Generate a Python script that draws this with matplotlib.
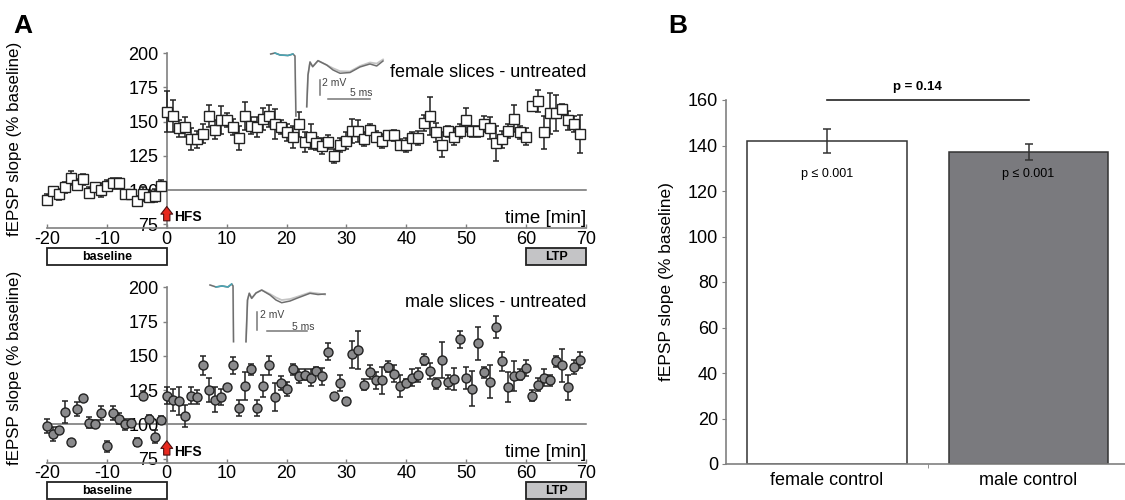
import matplotlib
matplotlib.use('Agg')
import matplotlib.pyplot as plt
import matplotlib.transforms as mtransforms
from matplotlib.patches import Rectangle

plt.rcParams['font.family'] = ['Liberation Sans', 'DejaVu Sans']
plt.rcParams['axes.unicode_minus'] = False

# ---- data: panel A (fEPSP slope, % baseline, one point per minute) ----
minutes = list(range(-20, 70))

female_mean = [93, 99, 97, 102, 109, 104, 108, 98, 102, 100, 103, 105, 105, 97, 97, 92, 97, 95, 96, 103,
               157, 154, 145, 146, 137, 137, 141, 154, 144, 151, 151, 146, 138, 154, 147, 146, 152, 154, 148, 146, 142, 139,
               148, 135, 139, 134, 132, 135, 125, 133, 136, 143, 143, 137, 144, 139, 136, 140, 140, 133, 133, 138, 138,
               149, 154, 142, 133, 143, 139, 143, 151, 143, 143, 148, 145, 134, 137, 143, 152, 142, 139, 161, 165, 142,
               156, 156, 159, 151, 148, 141]
female_sem = [4, 3, 4, 4, 5, 4, 4, 4, 3, 5, 4, 4, 4, 3, 3, 4, 5, 4, 5, 4,
              15, 12, 6, 7, 8, 6, 7, 8, 7, 10, 5, 6, 9, 10, 6, 7, 8, 8, 11, 5,
              6, 8, 9, 7, 9, 5, 6, 5, 5, 5, 6, 9, 8, 5, 4, 4, 5, 3, 4, 4,
              5, 4, 5, 6, 14, 7, 9, 4, 6, 5, 9, 4, 4, 6, 8, 13, 6, 5, 10, 5,
              6, 3, 8, 12, 15, 13, 4, 7, 6, 14]

male_mean = [99, 93, 96, 109, 87, 111, 119, 101, 100, 108, 84, 108, 104, 100, 101, 87, 121, 104, 91, 103,
             121, 118, 117, 106, 121, 120, 143, 125, 118, 120, 127, 143, 112, 128, 140, 112, 128, 143, 120, 130, 126, 140,
             135, 136, 134, 139, 135, 153, 121, 130, 117, 151, 154, 129, 138, 132, 132, 142, 137, 128, 130, 134,
             136, 147, 139, 130, 147, 131, 133, 162, 134, 126, 159, 138, 131, 171, 146, 127, 135, 136, 141, 121,
             129, 134, 132, 146, 143, 127, 142, 147]
male_sem = [5, 5, 2, 8, 2, 5, 2, 4, 3, 5, 4, 5, 4, 4, 3, 3, 3, 3, 5, 3,
            6, 8, 10, 8, 6, 5, 7, 9, 9, 6, 2, 6, 6, 10, 4, 6, 8, 7, 10, 5,
            5, 4, 5, 4, 6, 3, 6, 6, 2, 6, 2, 10, 14, 4, 5, 6, 10, 4, 6, 8,
            3, 6, 5, 4, 6, 4, 13, 5, 8, 6, 8, 13, 12, 4, 12, 8, 7, 11, 11, 4,
            6, 4, 5, 6, 4, 4, 12, 9, 5, 6]

# example traces (ms, mV): pre-stimulus part and post-stimulus part
f_pre_t = [0, 0.51, 1.11, 2.06, 2.65, 2.89, 3.0]
f_pre_v = [0, 0.13, -0.13, -0.2, 0, -0.27, -8.27]
f_post_t = [4.29, 4.44, 4.68, 5.0, 5.63, 6.67, 7.42, 8.25, 9.44, 10.63, 11.82, 12.62, 13.37]
f_post_dark = [-7.03, -2.8, -1.07, -1.69, -0.89, -1.47, -2.13, -2.57, -2.47, -1.73, -1.33, -1.6, -0.93]
f_post_light = [-7.03, -2.8, -1.07, -1.69, -0.89, -1.47, -1.9, -2.29, -2.33, -1.6, -1.13, -1.27, -0.73]

m_pre_t = [0, 0.75, 1.5, 2.25, 2.71, 2.88, 2.94]
m_pre_v = [0, -0.22, -0.11, -0.22, 0.11, -0.11, -6.3]
m_post_t = [4.5, 4.69, 4.91, 5.21, 5.75, 6.46, 7.5, 8.25, 8.96, 10.0, 10.84, 12.5, 13.5, 14.38]
m_post_dark = [-6.3, -1.67, -0.92, -1.48, -0.89, -0.56, -1.11, -1.67, -1.97, -1.78, -1.48, -0.92, -1.06, -1.0]
m_post_light = [-6.3, -1.67, -0.92, -1.48, -0.89, -0.56, -1.0, -1.39, -1.67, -1.56, -1.33, -0.83, -0.94, -1.06]

# ---- data: panel B ----
groups = ['female control', 'male control']
ltp_mean = [142, 137]
ltp_sem = [5.3, 3.5]
bar_colors = ['white', '#7a7a7e']

W, H = 1125, 500
fig = plt.figure(figsize=(W / 100, H / 100), dpi=100)


def px_axes(x0, y0, x1, y1):
    return fig.add_axes([x0 / W, 1 - y1 / H, (x1 - x0) / W, (y1 - y0) / H])


AX_GRAY = '#808080'


def time_panel(ax, mean, sem, marker, face, label, label_y, hline_start, box_top, ylab_y):
    ax.set_xlim(-21, 71)
    ax.set_ylim(72, 205)
    for s in ['top', 'right']:
        ax.spines[s].set_visible(False)
    ax.spines['left'].set_position(('data', 0))
    ax.spines['left'].set_bounds(72, 200)
    ax.spines['bottom'].set_bounds(-20, 70)
    for s in ['left', 'bottom']:
        ax.spines[s].set_color(AX_GRAY)
        ax.spines[s].set_linewidth(1.2)
    ax.set_yticks([75, 100, 125, 150, 175, 200])
    ax.set_xticks(range(-20, 71, 10))
    ax.tick_params(axis='y', direction='out', length=3, width=1, color=AX_GRAY, labelsize=13, pad=3)
    ax.tick_params(axis='x', direction='in', length=3, width=1, color=AX_GRAY, labelsize=13, pad=2)
    ax.patch.set_alpha(0)

    ax.plot([hline_start, 70], [100, 100], color='#707070', lw=1.1, zorder=1)
    ax.errorbar(minutes, mean, yerr=sem, fmt='none', ecolor='#222222', elinewidth=1.1,
                capsize=2.2, capthick=1.1, zorder=3)
    ax.plot(minutes, mean, linestyle='none', marker=marker, markersize=6.5,
            markerfacecolor=face, markeredgecolor='#222222', markeredgewidth=1, zorder=4)

    ax.annotate('', xy=(0, 90), xytext=(0, 75.5),
                arrowprops=dict(arrowstyle='simple,head_width=0.85,head_length=0.55,tail_width=0.45',
                                fc='#e8281e', ec='#4a1010', lw=0.8, mutation_scale=10),
                annotation_clip=False, zorder=5)
    ax.text(1.3, 80, 'HFS', fontsize=10, fontweight='bold', va='center', ha='left')
    ax.text(70, 79.5, 'time [min]', fontsize=13.5, ha='right', va='center')
    ax.text(70, label_y, label, fontsize=13, ha='right', va='center')

    ax.set_ylabel('fEPSP slope (% baseline)', fontsize=12.2)
    ax.yaxis.set_label_coords(22 / W, ylab_y,
                              transform=mtransforms.blended_transform_factory(fig.transFigure, ax.transAxes))

    tr = mtransforms.blended_transform_factory(ax.transData, fig.transFigure)
    bh = 17 / H
    bb = 1 - (box_top + 17) / H
    ax.add_patch(Rectangle((-20, bb), 20, bh, transform=tr, facecolor='white',
                           edgecolor='#222222', lw=1.3, clip_on=False))
    ax.text(-10, bb + bh / 2, 'baseline', transform=tr, fontsize=9, fontweight='bold',
            ha='center', va='center')
    ax.add_patch(Rectangle((60, bb), 10, bh, transform=tr, facecolor='#c4c4c6',
                           edgecolor='#222222', lw=1.3, clip_on=False))
    ax.text(65, bb + bh / 2, 'LTP', transform=tr, fontsize=9, fontweight='bold',
            ha='center', va='center')


def trace_inset(ax, pre_t, pre_v, post_t, dark, light, vbar, hbar, mv_pos, ms_pos):
    ax.axis('off')
    ax.plot(pre_t, pre_v, color='#c8c8c8', lw=1.3)
    ax.plot(pre_t, pre_v, color='#6e6e6e', lw=1.0)
    ax.plot(pre_t[1:5], pre_v[1:5], color='#48a6b6', lw=1.1)
    ax.plot(post_t, light, color='#c4c4c4', lw=1.3)
    ax.plot(post_t, dark, color='#6e6e6e', lw=1.1)
    ax.plot([vbar[0], vbar[0]], [vbar[1], vbar[2]], color='#777777', lw=1.1)
    ax.plot([hbar[1], hbar[2]], [hbar[0], hbar[0]], color='#777777', lw=1.1)
    ax.text(mv_pos[0], mv_pos[1], '2 mV', fontsize=7.5, color='#444444', ha='left', va='center')
    ax.text(ms_pos[0], ms_pos[1], '5 ms', fontsize=7.5, color='#444444', ha='right', va='center')


# ---- panel A, top (female) ----
ax_f = px_axes(41.0, 46.15, 592.0, 228.4)
time_panel(ax_f, female_mean, female_sem, 's', 'white', 'female slices - untreated', 186,
           -3, 248, 0.49)

ins_f = px_axes(266.5, 50.25, 388.3, 117.75)
ins_f.set_xlim(-0.5, 14)
ins_f.set_ylim(-8.5, 0.5)
trace_inset(ins_f, f_pre_t, f_pre_v, f_post_t, f_post_dark, f_post_light,
            (5.87, -3.47, -5.47), (-6.04, 6.82, 11.82), (6.1, -3.87), (12.06, -5.16))

# ---- panel A, bottom (male) ----
ax_m = px_axes(41.0, 280.45, 592.0, 462.65)
time_panel(ax_m, male_mean, male_sem, 'o', '#8a8a8c', 'male slices - untreated', 189,
           -20, 482, 0.52)

ins_m = px_axes(206, 280.5, 330, 348)
ins_m.set_xlim(-0.5, 15)
ins_m.set_ylim(-7, 0.5)
trace_inset(ins_m, m_pre_t, m_pre_v, m_post_t, m_post_dark, m_post_light,
            (5.84, -2.97, -5.0), (-5.11, 7.09, 12.09), (6.25, -3.33), (13.1, -4.67))

# ---- panel B ----
ax_b = px_axes(726.25, 100, 1129.25, 464)
x = [0, 1]
ax_b.bar(x, ltp_mean, width=0.79, color=bar_colors, edgecolor='#333333', linewidth=1.1, zorder=2)
ax_b.errorbar(x, ltp_mean, yerr=ltp_sem, fmt='none', ecolor='#333333', elinewidth=1.1,
              capsize=3, capthick=1.1, zorder=3)
ax_b.set_xlim(-0.5, 1.5)
ax_b.set_ylim(0, 160)
ax_b.set_yticks(range(0, 161, 20))
ax_b.set_xticks(x)
ax_b.set_xticklabels(groups, fontsize=13)
ax_b.set_xticks([0.5], minor=True)
ax_b.tick_params(axis='x', which='major', length=0, pad=6)
ax_b.tick_params(axis='x', which='minor', length=3, color=AX_GRAY)
ax_b.tick_params(axis='y', direction='out', length=3, color=AX_GRAY, labelsize=13, pad=3)
for s in ['top', 'right']:
    ax_b.spines[s].set_visible(False)
for s in ['left', 'bottom']:
    ax_b.spines[s].set_color(AX_GRAY)
    ax_b.spines[s].set_linewidth(1.2)
ax_b.set_ylabel('fEPSP slope (% baseline)', fontsize=12.5, labelpad=10)
for xi in x:
    ax_b.text(xi, 127.5, 'p ≤ 0.001', fontsize=9, ha='center', va='center')
ax_b.plot([0, 1], [160, 160], color='#222222', lw=1.2, clip_on=False)
ax_b.text(0.45, 165.7, 'p = 0.14', fontsize=9.5, fontweight='bold', ha='center', va='center')

# panel letters
fig.text(13 / W, 1 - 33 / H, 'A', fontsize=19, fontweight='bold', ha='left', va='baseline')
fig.text(668 / W, 1 - 33 / H, 'B', fontsize=19, fontweight='bold', ha='left', va='baseline')

fig.savefig('out.png', dpi=100)
